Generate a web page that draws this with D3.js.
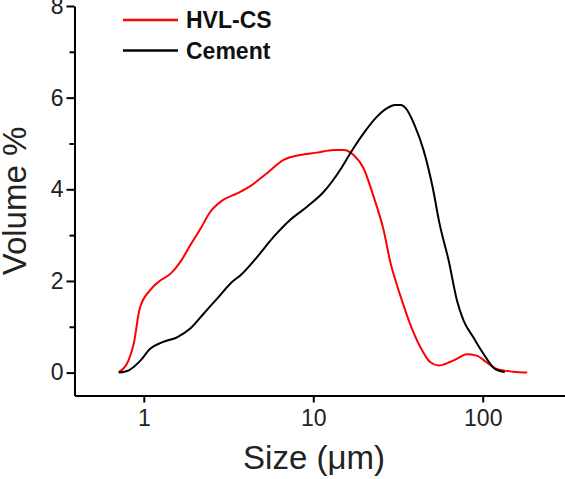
<!DOCTYPE html>
<html>
<head>
<meta charset="utf-8">
<script src="https://cdn.jsdelivr.net/npm/d3@7"></script>
<style>
  html, body { margin: 0; padding: 0; background: #fff; }
  svg { display: block; }
</style>
</head>
<body>
<svg id="chart" width="565" height="479"></svg>
<script>
// ---- data ----
const seriesNames = ["HVL-CS", "Cement"];
const seriesColors = ["#ff0000", "#000000"];

const hvlSize = [0.711, 0.815, 0.872, 0.946, 1.09, 1.25, 1.44, 1.64, 1.88, 2.16, 2.47, 2.89, 3.55, 4.25, 5.33, 6.68, 8.39, 10.5, 13.2, 15.1, 17.3, 19.8, 22.7, 26.0, 28.5, 31.0, 33.3, 37.2, 42.8, 48.9, 54.8, 64.0, 72.0, 80.4, 91.9, 105, 121, 151, 183];
const hvlVolume = [0.01, 0.28, 0.63, 1.40, 1.80, 2.01, 2.16, 2.41, 2.78, 3.14, 3.51, 3.75, 3.91, 4.07, 4.35, 4.64, 4.75, 4.80, 4.86, 4.86, 4.75, 4.46, 3.84, 3.11, 2.41, 1.94, 1.58, 1.07, 0.56, 0.23, 0.155, 0.23, 0.32, 0.40, 0.37, 0.23, 0.08, 0.02, 0.0];

const cementSize = [0.711, 0.815, 0.955, 1.09, 1.28, 1.57, 1.88, 2.26, 2.70, 3.39, 3.71, 4.66, 5.83, 7.30, 9.19, 11.5, 14.4, 16.5, 19.8, 23.7, 27.3, 30.2, 33.0, 35.1, 39.6, 44.7, 50.6, 55.6, 62.9, 70.4, 77.0, 88.0, 101, 118, 135];
const cementVolume = [0.0, 0.05, 0.26, 0.52, 0.66, 0.77, 0.96, 1.29, 1.61, 2.01, 2.12, 2.52, 2.96, 3.33, 3.62, 3.94, 4.42, 4.78, 5.22, 5.58, 5.77, 5.84, 5.84, 5.77, 5.40, 4.86, 4.05, 3.25, 2.45, 1.58, 1.14, 0.77, 0.41, 0.08, 0.01];

const xTicks = [1, 10, 100];
const xTickLabels = ["1", "10", "100"];
const yTicks = [0, 2, 4, 6, 8];
const yMinorTicks = [1, 3, 5, 7];
const xDomain = [0.39, 310];
const yDomain = [-0.5, 8];

// ---- layout ----
const FONT = "'Liberation Sans', Arial, Helvetica, sans-serif";
const svg = d3.select("#chart");
const mLeft = 74.5, mRight = 566, mTop = 6, mBottom = 395.5;

const x = d3.scaleLog().domain(xDomain).range([mLeft, mRight]);
const y = d3.scaleLinear().domain(yDomain).range([mBottom, mTop]);

// minor y ticks
svg.append("g")
  .attr("transform", `translate(${mLeft},0)`)
  .call(d3.axisLeft(y).tickValues(yMinorTicks).tickSize(5).tickFormat("").tickSizeOuter(0))
  .call(g => g.select(".domain").remove())
  .call(g => g.selectAll("line").attr("stroke", "#000").attr("stroke-width", 2));

// major y axis
const gy = svg.append("g")
  .attr("transform", `translate(${mLeft},0)`)
  .call(d3.axisLeft(y).tickValues(yTicks).tickSize(8).tickPadding(3).tickSizeOuter(0).tickFormat(d3.format("d")));
gy.select(".domain").attr("stroke", "#000").attr("stroke-width", 2);
gy.selectAll(".tick line").attr("stroke", "#000").attr("stroke-width", 2);
gy.selectAll(".tick text").attr("font-family", FONT).attr("font-size", 23).attr("fill", "#222");

// x axis
const gx = svg.append("g")
  .attr("transform", `translate(0,${mBottom})`)
  .call(d3.axisBottom(x).tickValues(xTicks).tickSize(7).tickPadding(7.5).tickSizeOuter(0)
    .tickFormat((d, i) => xTickLabels[i]));
gx.select(".domain").attr("stroke", "#000").attr("stroke-width", 2);
gx.selectAll(".tick line").attr("stroke", "#000").attr("stroke-width", 2);
gx.selectAll(".tick text").attr("font-family", FONT).attr("font-size", 23).attr("fill", "#222");

// lines
const line = d3.line()
  .x(d => x(d[0]))
  .y(d => y(d[1]))
  .curve(d3.curveMonotoneX);

const series = [
  d3.zip(hvlSize, hvlVolume),
  d3.zip(cementSize, cementVolume)
];

series.forEach((data, i) => {
  svg.append("path").datum(data)
    .attr("d", line).attr("fill", "none")
    .attr("stroke", seriesColors[i]).attr("stroke-width", 2).attr("stroke-linejoin", "round");
});

// legend
const legY = [20, 50.5];
seriesNames.forEach((name, i) => {
  svg.append("line")
    .attr("x1", 123).attr("x2", 178)
    .attr("y1", legY[i]).attr("y2", legY[i])
    .attr("stroke", seriesColors[i]).attr("stroke-width", 2.5);
  svg.append("text")
    .attr("x", 186).attr("y", legY[i] + 8)
    .attr("font-family", FONT).attr("font-size", 23).attr("font-weight", "bold")
    .attr("fill", "#111")
    .text(name);
});

// axis titles
svg.append("text")
  .attr("x", 314).attr("y", 469)
  .attr("text-anchor", "middle")
  .attr("font-family", FONT).attr("font-size", 33).attr("fill", "#222")
  .text("Size (\u03BCm)");

svg.append("text")
  .attr("transform", "translate(26,201) rotate(-90)")
  .attr("text-anchor", "middle")
  .attr("font-family", FONT).attr("font-size", 33).attr("fill", "#222")
  .text("Volume %");
</script>
</body>
</html>
